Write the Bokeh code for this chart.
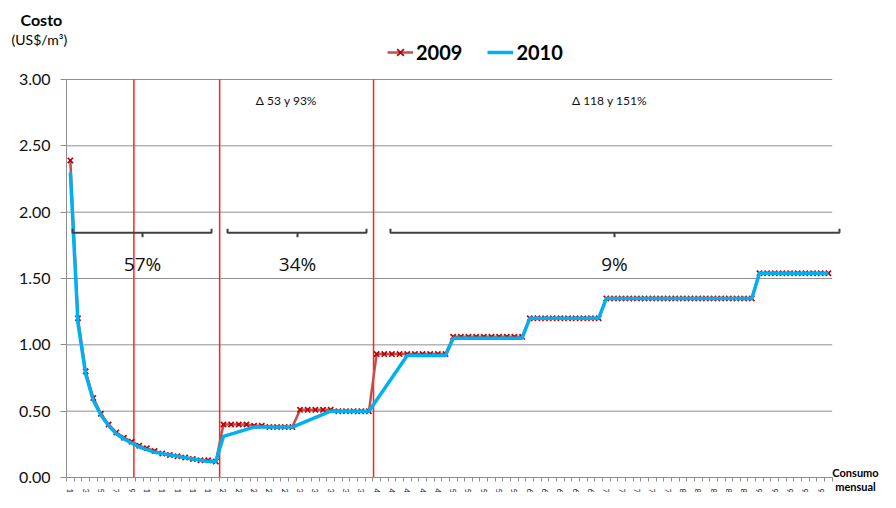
import math
from bokeh.plotting import figure
from bokeh.models import (Range1d, FixedTicker, Label, Legend, LegendItem,
                          PrintfTickFormatter)
from bokeh.embed import file_html
from bokeh.resources import INLINE

# ---------------- data ----------------
categories = list(range(1, 101))
cost_2009 = ([2.39, 1.20, 0.80, 0.60, 0.48, 0.40, 0.34, 0.30, 0.27, 0.24,
              0.22, 0.20, 0.18, 0.17, 0.16, 0.15, 0.14, 0.13, 0.13, 0.12]
             + [0.40, 0.40, 0.40, 0.40, 0.39, 0.39, 0.38, 0.38, 0.38, 0.38]
             + [0.51] * 5 + [0.50] * 5
             + [0.93] * 10 + [1.06] * 10 + [1.20] * 10
             + [1.35] * 20 + [1.54] * 10)

cat_2010 = list(range(1, 21)) + [21, 25, 30, 35, 40] + list(range(45, 101))
cost_2010 = ([2.30, 1.16, 0.78, 0.58, 0.47, 0.39, 0.33, 0.29, 0.26, 0.23,
              0.21, 0.19, 0.18, 0.17, 0.16, 0.15, 0.14, 0.13, 0.12, 0.12]
             + [0.31, 0.38, 0.38, 0.50, 0.50]
             + [0.92] * 6 + [1.05] * 10 + [1.20] * 10
             + [1.35] * 20 + [1.54] * 10)

y_ticks = [0.0, 0.5, 1.0, 1.5, 2.0, 2.5, 3.0]
x_tick_pos = list(range(1, 100, 2))
x_tick_labels = ("1 3 5 7 9 1 1 1 1 1 2 2 2 2 2 3 3 3 3 3 4 4 4 4 4 "
                 "5 5 5 5 5 6 6 6 6 6 7 7 7 7 7 8 8 8 8 8 9 9 9 9 9").split()

block_limits = [9.3, 20.5, 40.6]
brackets = [(1.28, 19.44, 10.43, "57%"), (21.53, 39.68, 30.67, "34%"),
            (42.81, 101.45, 72.07, "9%")]
bracket_y = 1.845
pct_y = 1.61
delta_notes = [(29.2, "Δ 53 y 93%"), (71.4, "Δ 118 y 151%")]

# ---------------- layout helpers (canvas pixels) ----------------
W, H = 880, 492
AXIS_X = 66.0      # pixel of x = 0.5
PXU = 7.657        # pixels per category
AXIS_Y = 477.0     # pixel of y = 0
PYU = 132.67       # pixels per unit of cost


def dx(X):
    return 0.5 + (X - AXIS_X) / PXU


def dy(Y):
    return (AXIS_Y - Y) / PYU


FONT = "Lato"
p = figure(width=W, height=H,
           x_range=Range1d(dx(0), dx(W)), y_range=Range1d(dy(H), dy(0)),
           output_backend="svg", toolbar_location=None,
           min_border_left=0, min_border_right=0, min_border_top=0,
           min_border_bottom=0)
p.outline_line_color = None
p.xgrid.visible = False
p.ygrid.visible = False

# gridlines
grid_y = [v for v in y_ticks if v > 0]
p.segment(x0=[0.5] * len(grid_y), x1=[100.5] * len(grid_y), y0=grid_y, y1=grid_y,
          line_color="#8f8f8f", line_width=1)

# y axis
p.yaxis.fixed_location = 0.5
p.yaxis.bounds = (0, 3)
p.yaxis.ticker = FixedTicker(ticks=y_ticks)
p.yaxis.formatter = PrintfTickFormatter(format="%.2f")
p.yaxis.axis_line_color = "#8f8f8f"
p.yaxis.major_tick_line_color = "#8f8f8f"
p.yaxis.major_tick_out = 6
p.yaxis.major_tick_in = 0
p.yaxis.minor_tick_line_color = None
p.yaxis.major_label_text_font = FONT
p.yaxis.major_label_text_font_size = "16px"
p.yaxis.major_label_text_color = "#111111"
p.yaxis.major_label_standoff = 10

# x axis
p.xaxis.fixed_location = 0
p.xaxis.bounds = (0.5, 100.5)
p.xaxis.ticker = FixedTicker(ticks=x_tick_pos,
                             minor_ticks=[c - 0.5 for c in categories] + [100.5])
p.xaxis.major_label_overrides = {pos: lab for pos, lab in zip(x_tick_pos, x_tick_labels)}
p.xaxis.axis_line_color = "#8f8f8f"
p.xaxis.major_tick_line_color = None
p.xaxis.minor_tick_line_color = "#8f8f8f"
p.xaxis.minor_tick_out = 4
p.xaxis.minor_tick_in = 0
p.xaxis.major_label_orientation = -math.pi / 2
p.xaxis.major_label_text_font = FONT
p.xaxis.major_label_text_font_size = "8px"
p.xaxis.major_label_text_color = "#222222"
p.xaxis.major_label_standoff = 5

# red block dividers
p.segment(x0=block_limits, x1=block_limits, y0=[0] * 3, y1=[3] * 3,
          line_color="#ff2020", line_width=1.5)

# series
r09_line = p.line(categories, cost_2009, line_color="#c0504d", line_width=2.5)
r09_pts = p.scatter(categories, cost_2009, marker="x", size=7.5,
                    line_color="#c00000", line_width=1.7)
r10 = p.line(cat_2010, cost_2010, line_color="#00b0f0", line_width=3.5)

# brackets
for x0, x1, xc, pct in brackets:
    p.multi_line(xs=[[x0, x0, x1, x1], [xc, xc]],
                 ys=[[bracket_y + 0.03, bracket_y, bracket_y, bracket_y + 0.03],
                     [bracket_y, bracket_y - 0.035]],
                 line_color="#404040", line_width=2)
    p.add_layout(Label(x=xc, y=pct_y, text=pct, text_align="center",
                       text_baseline="middle", text_font="Open Sans",
                       text_font_size="19px", text_color="#111111"))

for xc, note in delta_notes:
    p.add_layout(Label(x=xc, y=dy(100), text=note, text_align="center",
                       text_baseline="middle", text_font=FONT,
                       text_font_size="12px", text_color="#111111"))

# titles
p.add_layout(Label(x=dx(20), y=dy(19), text="Costo", text_align="left",
                   text_baseline="middle", text_font=FONT, text_font_style="bold",
                   text_font_size="16px", text_color="#000000"))
p.add_layout(Label(x=dx(11), y=dy(39), text="(US$/m³)", text_align="left",
                   text_baseline="middle", text_font=FONT,
                   text_font_size="14px", text_color="#000000"))
p.add_layout(Label(x=dx(855), y=dy(472), text="Consumo", text_align="center",
                   text_baseline="middle", text_font=FONT, text_font_style="bold",
                   text_font_size="11px", text_color="#000000"))
p.add_layout(Label(x=dx(855), y=dy(486), text="mensual", text_align="center",
                   text_baseline="middle", text_font=FONT, text_font_style="bold",
                   text_font_size="11px", text_color="#000000"))

# legend
legend = Legend(items=[LegendItem(label="2009", renderers=[r09_line, r09_pts]),
                       LegendItem(label="2010", renderers=[r10])],
                orientation="horizontal", location=(387, H - 64),
                glyph_width=26, glyph_height=24, label_standoff=3, spacing=25,
                padding=0, margin=0, border_line_color=None,
                background_fill_alpha=0, label_text_font=FONT,
                label_text_font_style="bold", label_text_font_size="20px",
                label_text_color="#000000", label_height=24)
p.add_layout(legend, "center")

open("out.html", "w").write(file_html(p, INLINE))
